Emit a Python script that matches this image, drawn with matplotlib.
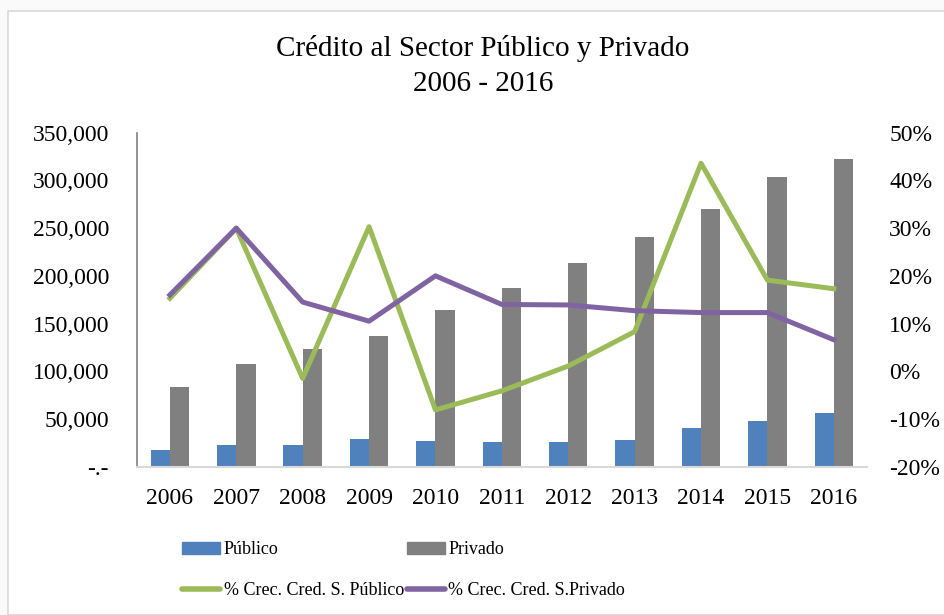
import numpy as np
import matplotlib.pyplot as plt
from matplotlib.patches import Rectangle
from matplotlib.lines import Line2D
from matplotlib.ticker import FuncFormatter

plt.rcParams['font.family'] = ['Liberation Serif', 'DejaVu Serif']

years = ["2006", "2007", "2008", "2009", "2010", "2011", "2012", "2013", "2014", "2015", "2016"]
publico = [17200, 22700, 22400, 29400, 26600, 25900, 26000, 28000, 40200, 48200, 56600]
privado = [83200, 108000, 123700, 136700, 163900, 187000, 213200, 240800, 270100, 303300, 322900]
crec_pub = [15.3, 30.0, -1.5, 30.3, -8.1, -4.1, 1.1, 8.3, 43.6, 19.1, 17.3]
crec_priv = [16.0, 30.0, 14.5, 10.5, 20.0, 14.0, 13.9, 12.7, 12.3, 12.3, 6.6]

c_pub = "#4F81BD"
c_priv = "#808080"
c_green = "#9BBB59"
c_purple = "#8064A2"

W, H = 945, 615
fig = plt.figure(figsize=(W / 100, H / 100), dpi=100, facecolor="#fafafa")
# white chart area with light border
fig.patches.append(Rectangle((8 / W, 0), 1, 1 - 11 / H, transform=fig.transFigure,
                             facecolor="white", edgecolor="#d9d9d9", linewidth=1.2, zorder=-5))

ax = fig.add_axes([136.7 / W, 1 - 466.7 / H, (867 - 136.7) / W, (466.7 - 132.7) / H])
ax.set_facecolor("none")
x = np.arange(len(years))
bw = 0.29
ax.bar(x - bw / 2, publico, bw, color=c_pub, zorder=2)
ax.bar(x + bw / 2, privado, bw, color=c_priv, zorder=2)
ax.set_xlim(-0.5, len(years) - 0.5)
ax.set_ylim(0, 350000)
ax.set_yticks(np.arange(0, 350001, 50000))
ax.yaxis.set_major_formatter(FuncFormatter(lambda v, p: "-.-" if v == 0 else f"{int(v):,}"))
ax.set_xticks(x)
ax.set_xticklabels(years)
ax.tick_params(axis="both", length=0, labelsize=17)
ax.tick_params(axis="x", pad=15)
ax.tick_params(axis="y", pad=20)
for s in ["top", "right"]:
    ax.spines[s].set_visible(False)
ax.spines["left"].set_color("#808080")
ax.spines["left"].set_linewidth(1.2)
ax.spines["bottom"].set_color("#d9d9d9")
ax.spines["bottom"].set_linewidth(1.5)

ax2 = ax.twinx()
ax2.plot(x, crec_pub, color=c_green, linewidth=3.6, zorder=3)
ax2.plot(x, crec_priv, color=c_purple, linewidth=3.6, zorder=3)
ax2.set_ylim(-20, 50)
ax2.set_yticks(np.arange(-20, 51, 10))
ax2.yaxis.set_major_formatter(FuncFormatter(lambda v, p: f"{int(v)}%"))
ax2.tick_params(axis="y", length=0, labelsize=17, pad=16)
for s in ["top", "right", "left", "bottom"]:
    ax2.spines[s].set_visible(False)

fig.text(483 / W, 1 - 66 / H, "Crédito al Sector Público y Privado\n2006 - 2016",
         ha="center", va="center", fontsize=21, linespacing=1.42)

handles = [
    Rectangle((0, 0), 1, 1, color=c_pub),
    Line2D([], [], color=c_green, linewidth=4, solid_capstyle="round"),
    Rectangle((0, 0), 1, 1, color=c_priv),
    Line2D([], [], color=c_purple, linewidth=4, solid_capstyle="round"),
]
labels = ["Público", "% Crec. Cred. S. Público", "Privado", "% Crec. Cred. S.Privado"]
fig.legend(handles, labels, ncol=2, loc="upper left", bbox_to_anchor=(166 / W, 1 - 525 / H),
           frameon=False, fontsize=13, handlelength=2.1, handleheight=0.6,
           handletextpad=0.2, columnspacing=0.15, labelspacing=1.3)

fig.savefig("out.png", dpi=100, facecolor=fig.get_facecolor())
